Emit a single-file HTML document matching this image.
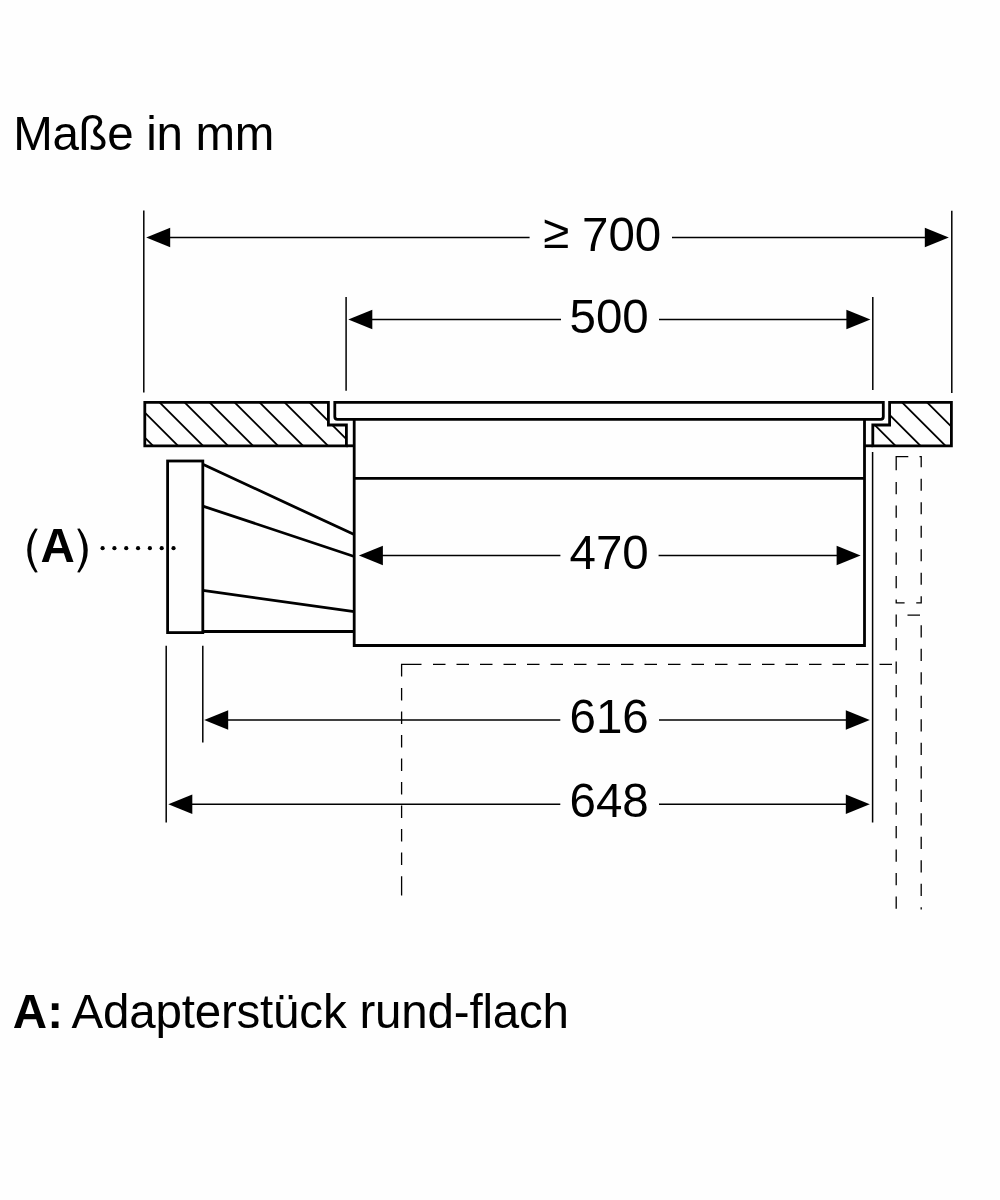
<!DOCTYPE html>
<html><head><meta charset="utf-8"><style>
html,body{margin:0;padding:0;background:#fefefe;width:1000px;height:1200px;overflow:hidden}
svg{position:absolute;left:0;top:0;will-change:transform}
.t{stroke:#000;stroke-width:1.5;fill:none}
.k{stroke:#000;stroke-width:2.8;fill:none;stroke-linejoin:miter}
.k2{stroke:#000;stroke-width:2.8;fill:none}
.h{stroke:#000;stroke-width:1.8;fill:none}
.ds{stroke:#000;stroke-width:1.3;fill:none;stroke-linejoin:miter}
text{font-family:"Liberation Sans",sans-serif;fill:#000}
.d{font-size:47.5px}
</style></head><body>
<svg width="1000" height="1200" viewBox="0 0 1000 1200">
<text x="13.2" y="149.7" style="font-size:47.5px;letter-spacing:-0.3px">Maße in mm</text>
<path d="M35.05,528.6 Q19.35,550.6 35.05,572.5 L37.75,572.3 Q24.65,550.6 37.75,528.8 Z" fill="#000"/>
<path d="M79.7,528.6 Q95.9,550.6 79.7,572.5 L77.2,572.3 Q89.8,550.6 77.2,528.8 Z" fill="#000"/>
<text x="40.5" y="562.4" style="font-size:47.5px;font-weight:bold">A</text>
<text x="12.7" y="1028" style="font-size:47.5px;font-weight:bold;letter-spacing:0.3px">A:</text>
<text x="71.5" y="1028" style="font-size:47.5px;letter-spacing:-0.19px">Adapterstück rund-flach</text>
<path d="M146.2,237.5 L170.2,227.75 L170.2,247.25 Z" fill="#000"/>
<path d="M948.8,237.5 L924.8,227.75 L924.8,247.25 Z" fill="#000"/>
<line x1="166.2" y1="237.5" x2="529.6" y2="237.5" class="t"/>
<line x1="672" y1="237.5" x2="928.8" y2="237.5" class="t"/>
<text x="543" y="248" class="d">≥</text>
<text x="582" y="251" class="d">700</text>
<path d="M348.3,319.4 L372.3,309.65 L372.3,329.15 Z" fill="#000"/>
<path d="M870.4,319.4 L846.4,309.65 L846.4,329.15 Z" fill="#000"/>
<line x1="368.3" y1="319.4" x2="561" y2="319.4" class="t"/>
<line x1="659" y1="319.4" x2="850.4" y2="319.4" class="t"/>
<text x="569.5" y="333" class="d">500</text>
<path d="M358.9,555.5 L382.9,545.75 L382.9,565.25 Z" fill="#000"/>
<path d="M860.6,555.5 L836.6,545.75 L836.6,565.25 Z" fill="#000"/>
<line x1="378.9" y1="555.5" x2="560.4" y2="555.5" class="t"/>
<line x1="658.6" y1="555.5" x2="840.6" y2="555.5" class="t"/>
<text x="569.5" y="569" class="d">470</text>
<path d="M204.2,720 L228.2,710.25 L228.2,729.75 Z" fill="#000"/>
<path d="M869.8,720 L845.8,710.25 L845.8,729.75 Z" fill="#000"/>
<line x1="224.2" y1="720" x2="560.3" y2="720" class="t"/>
<line x1="659" y1="720" x2="849.8" y2="720" class="t"/>
<text x="569.5" y="733.2" class="d">616</text>
<path d="M168.3,804.2 L192.3,794.45 L192.3,813.95 Z" fill="#000"/>
<path d="M869.8,804.2 L845.8,794.45 L845.8,813.95 Z" fill="#000"/>
<line x1="188.3" y1="804.2" x2="560.3" y2="804.2" class="t"/>
<line x1="659" y1="804.2" x2="849.8" y2="804.2" class="t"/>
<text x="569.5" y="816.5" class="d">648</text>
<line x1="143.8" y1="210.5" x2="143.8" y2="392.5" class="t"/>
<line x1="951.8" y1="210.8" x2="951.8" y2="393" class="t"/>
<line x1="346.1" y1="297" x2="346.1" y2="390.8" class="t"/>
<line x1="872.8" y1="297" x2="872.8" y2="390.1" class="t"/>
<line x1="166.2" y1="645.8" x2="166.2" y2="822.5" class="t"/>
<line x1="202.8" y1="645.8" x2="202.8" y2="742.5" class="t"/>
<line x1="872.6" y1="452" x2="872.6" y2="822.6" class="t"/>
<clipPath id="cl"><path d="M144.8,402.4 H328.4 V425 H346.4 V445.8 H144.8 Z"/></clipPath>
<clipPath id="cr"><path d="M889.6,402.4 H951.4 V445.8 H872.8 V425 H889.6 Z"/></clipPath>
<path d="M37.19999999999999,380 L127.19999999999999,470 M62.19999999999999,380 L152.2,470 M87.19999999999999,380 L177.2,470 M112.19999999999999,380 L202.2,470 M137.2,380 L227.2,470 M162.2,380 L252.2,470 M187.2,380 L277.2,470 M212.2,380 L302.2,470 M237.2,380 L327.2,470 M262.2,380 L352.2,470 M287.2,380 L377.2,470 M312.2,380 L402.2,470 M337.2,380 L427.2,470 M362.2,380 L452.2,470" class="h" clip-path="url(#cl)"/>
<path d="M779.7,380 L869.7,470 M804.7,380 L894.7,470 M829.7,380 L919.7,470 M854.7,380 L944.7,470 M879.7,380 L969.7,470 M904.7,380 L994.7,470 M929.7,380 L1019.7,470 M954.7,380 L1044.7,470" class="h" clip-path="url(#cr)"/>
<path d="M144.8,402.4 H328.4 V425 H346.4 V445.8 H144.8 Z" class="k"/>
<path d="M889.6,402.4 H951.4 V445.8 H872.8 V425 H889.6 Z" class="k"/>
<line x1="346.4" y1="445.8" x2="354.2" y2="445.8" class="k2"/>
<line x1="872.8" y1="445.8" x2="864.5" y2="445.8" class="k2"/>
<path d="M334.8,402.4 H883.3 V416.8 Q883.3,419.3 880.8,419.3 H337.3 Q334.8,419.3 334.8,416.8 Z" class="k"/>
<path d="M354.2,419.3 V645.5 H864.5 V419.3" class="k"/>
<line x1="354.2" y1="478.4" x2="864.5" y2="478.4" class="k"/>
<rect x="167.6" y="461" width="35.2" height="171.6" class="k"/>
<path d="M202.8,464.3 L354.2,534.6 M202.8,506.1 L354.2,556.5 M202.8,590.4 L354.2,611.7 M202.8,631.5 L354.2,631.5" class="k"/>
<circle cx="102.60" cy="548.2" r="2.1" fill="#000"/>
<circle cx="114.42" cy="548.2" r="2.1" fill="#000"/>
<circle cx="126.24" cy="548.2" r="2.1" fill="#000"/>
<circle cx="138.06" cy="548.2" r="2.1" fill="#000"/>
<circle cx="149.88" cy="548.2" r="2.1" fill="#000"/>
<circle cx="161.70" cy="548.2" r="2.1" fill="#000"/>
<circle cx="173.52" cy="548.2" r="2.1" fill="#000"/>
<path d="M896.20,470.30 L896.20,456.60 L908.30,456.60 M919.50,456.60 L921.20,456.60 L921.20,467.30 M921.20,478.70 L921.20,490.70 M921.20,502.20 L921.20,514.20 M921.20,525.70 L921.20,537.70 M921.20,549.20 L921.20,561.20 M921.20,572.70 L921.20,584.70 M921.20,596.20 L921.20,602.90 L916.25,602.90 M904.60,602.90 L896.20,602.90 L896.20,599.60 M896.20,482.00 L896.20,494.30 M896.20,505.50 L896.20,517.80 M896.20,529.00 L896.20,541.30 M896.20,552.50 L896.20,564.80 M896.20,576.00 L896.20,588.30 M907.50,615.10 L920.00,615.10 M896.20,614.60 L896.20,626.80 M896.20,638.10 L896.20,650.30 M896.20,661.60 L896.20,673.80 M896.20,685.10 L896.20,697.30 M896.20,708.60 L896.20,720.80 M896.20,732.10 L896.20,744.30 M896.20,755.60 L896.20,767.80 M896.20,779.10 L896.20,791.30 M896.20,802.60 L896.20,814.80 M896.20,826.10 L896.20,838.30 M896.20,849.60 L896.20,861.80 M896.20,873.10 L896.20,885.30 M896.20,896.60 L896.20,908.80 M921.20,625.20 L921.20,637.40 M921.20,648.70 L921.20,660.90 M921.20,672.20 L921.20,684.40 M921.20,695.70 L921.20,707.90 M921.20,719.20 L921.20,731.40 M921.20,742.70 L921.20,754.90 M921.20,766.20 L921.20,778.40 M921.20,789.70 L921.20,801.90 M921.20,813.20 L921.20,825.40 M921.20,836.70 L921.20,848.90 M921.20,860.20 L921.20,872.40 M921.20,883.70 L921.20,895.90 M921.20,907.20 L921.20,909.50 M421.50,664.40 L401.60,664.40 L401.60,676.50 M433.00,664.40 L445.50,664.40 M456.50,664.40 L469.00,664.40 M480.00,664.40 L492.50,664.40 M503.50,664.40 L516.00,664.40 M527.00,664.40 L539.50,664.40 M550.50,664.40 L563.00,664.40 M574.00,664.40 L586.50,664.40 M597.50,664.40 L610.00,664.40 M621.00,664.40 L633.50,664.40 M644.50,664.40 L657.00,664.40 M668.00,664.40 L680.50,664.40 M691.50,664.40 L704.00,664.40 M715.00,664.40 L727.50,664.40 M738.50,664.40 L751.00,664.40 M762.00,664.40 L774.50,664.40 M785.50,664.40 L798.00,664.40 M809.00,664.40 L821.50,664.40 M832.50,664.40 L845.00,664.40 M856.00,664.40 L868.50,664.40 M879.50,664.40 L892.00,664.40 M401.60,688.00 L401.60,700.50 M401.60,711.50 L401.60,724.00 M401.60,735.00 L401.60,747.50 M401.60,758.50 L401.60,771.00 M401.60,782.00 L401.60,794.50 M401.60,805.50 L401.60,818.00 M401.60,829.00 L401.60,841.50 M401.60,852.50 L401.60,865.00 M401.60,876.20 L401.60,895.60" class="ds"/>
</svg>
</body></html>
